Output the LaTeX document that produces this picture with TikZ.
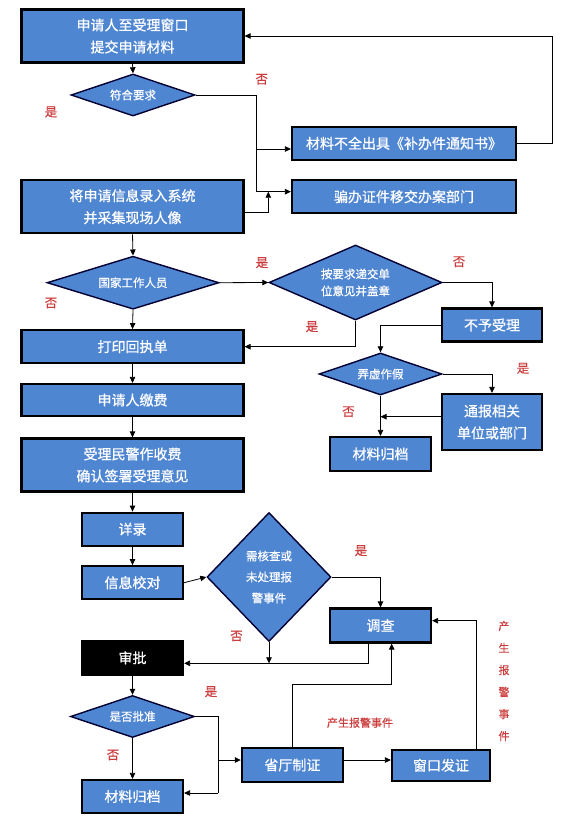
\documentclass[tikz,border=0pt]{standalone}
\usepackage{fontspec}
\setmainfont{Noto Sans CJK SC}
\newfontfamily\boxfont[FakeBold=0.7]{Noto Sans CJK SC}
\newfontfamily\lblfont[FakeBold=0.3]{Noto Sans CJK SC}
\usetikzlibrary{arrows.meta,shapes.geometric}
\definecolor{boxblue}{RGB}{79,134,210}
\definecolor{lblred}{RGB}{205,60,60}
\begin{document}
\begin{tikzpicture}[x=1pt,y=-1pt,
  box/.style={rectangle,draw=black,line width=2.2pt,fill=boxblue,text=white,font=\boxfont\fontsize{14}{22}\selectfont,align=center,inner sep=0pt},
  dia/.style={diamond,draw=black!80!blue,line width=1.4pt,fill=boxblue,inner sep=0pt},
  dtext/.style={text=white,font=\boxfont\fontsize{11.5}{17}\selectfont,align=center},
  lbl/.style={text=lblred,font=\lblfont\fontsize{12.5}{14}\selectfont,inner sep=0pt},
  arr/.style={draw=black,line width=0.8pt,-{Triangle[length=6pt,width=5.5pt]}},
  ln/.style={draw=black,line width=0.8pt}]
\useasboundingbox[fill=white] (0,0) rectangle (570,819);

% left column
\node[box,minimum width=222,minimum height=53] (b1) at (132.5,36) {申请人至受理窗口\\提交申请材料};
\node[dia,minimum width=124,minimum height=42,label={[dtext]center:符合要求}] (d1) at (133,95) {};
\node[box,minimum width=222,minimum height=53] (b4) at (132.5,206.7) {将申请信息录入系统\\并采集现场人像};
\node[dia,minimum width=172,minimum height=53,label={[dtext]center:国家工作人员}] (d2) at (133,282.7) {};
\node[box,minimum width=222,minimum height=33] (b6) at (132.5,346.7) {打印回执单};
\node[box,minimum width=222,minimum height=32] (b7) at (132.5,400) {申请人缴费};
\node[box,minimum width=222,minimum height=53] (b8) at (132.5,465) {受理民警作收费\\确认签署受理意见};
\node[box,minimum width=101,minimum height=33] (b11) at (132.5,529.2) {详录};
\node[box,minimum width=101,minimum height=33] (b12) at (132.5,582.7) {信息校对};
\node[box,fill=black,minimum width=101,minimum height=34] (b14) at (132.5,657.8) {审批};
\node[dia,minimum width=124,minimum height=42,label={[dtext]center:是否批准}] (d6) at (132.5,716.5) {};
\node[box,minimum width=101,minimum height=33] (b15) at (132.5,796.5) {材料归档};

% right parts
\node[box,minimum width=224,minimum height=33] (b2) at (404,143.3) {材料不全出具《补办件通知书》};
\node[box,minimum width=224,minimum height=33] (b3) at (404,196.7) {骗办证件移交办案部门};
\node[dia,minimum width=173,minimum height=75,label={[dtext]center:按要求递交单\\位意见并盖章}] (d3) at (355.5,282.5) {};
\node[box,minimum width=100,minimum height=33] (b5) at (492,325) {不予受理};
\node[dia,minimum width=123,minimum height=42,label={[dtext]center:弄虚作假}] (d4) at (380.5,374) {};
\node[box,minimum width=100,minimum height=56] (b9) at (492,422) {通报相关\\单位或部门};
\node[box,minimum width=101,minimum height=34] (b10) at (380.5,454) {材料归档};
\node[dia,minimum width=124,minimum height=129,label={[dtext,font=\boxfont\fontsize{11.5}{21}\selectfont]center:需核查或\\未处理报\\警事件}] (d5) at (269,577) {};
\node[box,minimum width=101,minimum height=34] (b13) at (380.5,625.5) {调查};
\node[box,minimum width=101,minimum height=34] (b16) at (292.4,765) {省厅制证};
\node[box,minimum width=98,minimum height=31] (b17) at (441,765.3) {窗口发证};

% junction coordinates
\coordinate (j1) at (256,149);
\coordinate (j2) at (256,191.7);
\coordinate (j3) at (268.3,191.7);
\coordinate (j4) at (368,663.3);
\coordinate (j5) at (391.7,684);
\coordinate (j6) at (476.7,620.7);
\coordinate (j7) at (218,760);
\coordinate (j8) at (218,793);

% connectors
\draw[arr] (b1.south) -- (d1.north);
\draw[ln] (d1.east) -| (j2);
\draw[arr] (j1) -- (j1 -| b2.west);
\draw[arr] (j2) -- (j2 -| b3.west);
\draw[arr] ([yshift=-5.3pt]b4.east) -| (j3);
\draw[arr] (b2.east) -- ++(35.3,0) |- (b1.east);
\draw[arr] (b4.south) -- (d2.north);
\draw[arr] (d2.east) -- (d3.west);
\draw[arr] (d3.east) -| (b5.north);
\draw[arr] (d3.south) |- (b6.east);
\draw[arr] (d2.south) -- (b6.north);
\draw[arr] (b6.south) -- (b7.north);
\draw[arr] (b7.south) -- (b8.north);
\draw[arr] (b5.west) -| (d4.north);
\draw[arr] (d4.east) -| (b9.north);
\draw[arr] (d4.south) -- (b10.north);
\draw[arr] ([yshift=5.3pt]b9.west) -- ([yshift=5.3pt]b9.west -| d4.south);
\draw[arr] (b8.south) -- (b11.north);
\draw[arr] (b11.south) -- (b12.north);
\draw[arr] (b12.east) -- (d5.west);
\draw[arr] (d5.east) -| (b13.north);
\draw[arr] (d5.south) -- (d5.south |- j4);
\draw[arr] (j4 |- b13.south) -- (j4) -- (j4 -| b14.east);
\draw[arr] (b14.south) -- (d6.north);
\draw[arr] (d6.south) -- (b15.north);
\draw[ln] (d6.east) -| (j8);
\draw[arr] (j8) -- (j8 -| b15.east);
\draw[arr] (j7) -- (j7 -| b16.west);
\draw[arr] (j7 -| b16.east) -- (j7 -| b17.west);
\draw[arr] (b16.north) |- (j5) -- (j5 |- b13.south);
\draw[arr] (j6 |- b17.north) -- (j6) -- (j6 -| b13.east);

% labels
\node[lbl] (l1) at (261.7,79.3) {否};
\node[lbl] (l2) at (51,112) {是};
\node[lbl] (l3) at (262,262.7) {是};
\node[lbl] (l4) at (51,303) {否};
\node[lbl] (l5) at (459,261.7) {否};
\node[lbl] (l6) at (312,326.7) {是};
\node[lbl] (l7) at (523,368.3) {是};
\node[lbl] (l8) at (348.5,411.7) {否};
\node[lbl] (l9) at (361,550.7) {是};
\node[lbl] (l10) at (236.5,636) {否};
\node[lbl] (l11) at (211,691.7) {是};
\node[lbl] (l12) at (113,755) {否};
\node[lbl,font=\lblfont\fontsize{11}{13}\selectfont] (l13) at (360,722.7) {产生报警事件};
\node[lbl,font=\lblfont\fontsize{11}{22}\selectfont,align=center] (l14) at (504,681) {产\\生\\报\\警\\事\\件};
\end{tikzpicture}
\end{document}
